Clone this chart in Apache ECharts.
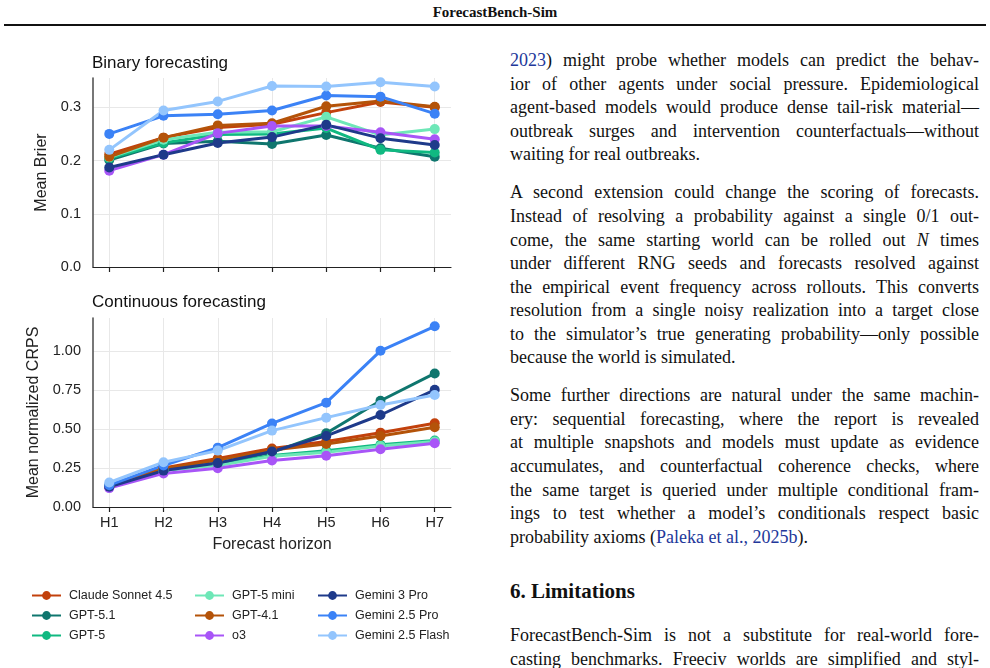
<!DOCTYPE html>
<html>
<head>
<meta charset="utf-8">
<script src="https://cdn.jsdelivr.net/npm/echarts@6/dist/echarts.min.js"></script>
<style>
  body { margin: 0; background: #fff; }
  #page { position: relative; width: 990px; height: 668px; overflow: hidden; }
  #chart { position: absolute; left: 0; top: 0; width: 495px; height: 668px; }
  .hdr { position: absolute; left: 0; width: 990px; top: 4px; text-align: center;
         font: bold 15px "Liberation Serif", serif; color: #111; }
  .rule { position: absolute; left: 4px; width: 982px; top: 24px; height: 2px; background: #111; }
  .ln { position: absolute; left: 510px; width: 469px; height: 22px; line-height: 22px;
        font: 18px "Liberation Serif", serif; color: #111; white-space: nowrap;
        text-align: justify; text-align-last: justify; }
  .ln.last { text-align-last: left; }
  .ln a { color: #22379a; text-decoration: none; }
  .sec { position: absolute; left: 510px; font: bold 21px "Liberation Serif", serif; color: #111; }
</style>
</head>
<body>
<div id="page">
  <div class="hdr">ForecastBench-Sim</div>
  <div class="rule"></div>
  <div id="chart"></div>

  <div class="ln" style="top:50px"><a>2023</a>) might probe whether models can predict the behav-</div>
  <div class="ln" style="top:74px">ior of other agents under social pressure. Epidemiological</div>
  <div class="ln" style="top:97px">agent-based models would produce dense tail-risk material—</div>
  <div class="ln" style="top:121px">outbreak surges and intervention counterfactuals—without</div>
  <div class="ln last" style="top:144px">waiting for real outbreaks.</div>

  <div class="ln" style="top:182px">A second extension could change the scoring of forecasts.</div>
  <div class="ln" style="top:206px">Instead of resolving a probability against a single 0/1 out-</div>
  <div class="ln" style="top:230px">come, the same starting world can be rolled out <i>N</i> times</div>
  <div class="ln" style="top:253px">under different RNG seeds and forecasts resolved against</div>
  <div class="ln" style="top:277px">the empirical event frequency across rollouts. This converts</div>
  <div class="ln" style="top:300px">resolution from a single noisy realization into a target close</div>
  <div class="ln" style="top:324px">to the simulator’s true generating probability—only possible</div>
  <div class="ln last" style="top:347px">because the world is simulated.</div>

  <div class="ln" style="top:385px">Some further directions are natural under the same machin-</div>
  <div class="ln" style="top:409px">ery: sequential forecasting, where the report is revealed</div>
  <div class="ln" style="top:432px">at multiple snapshots and models must update as evidence</div>
  <div class="ln" style="top:456px">accumulates, and counterfactual coherence checks, where</div>
  <div class="ln" style="top:480px">the same target is queried under multiple conditional fram-</div>
  <div class="ln" style="top:503px">ings to test whether a model’s conditionals respect basic</div>
  <div class="ln last" style="top:527px">probability axioms (<a>Paleka et al., 2025b</a>).</div>

  <div class="sec" style="top:579px">6. Limitations</div>

  <div class="ln" style="top:625px">ForecastBench-Sim is not a substitute for real-world fore-</div>
  <div class="ln" style="top:649px">casting benchmarks. Freeciv worlds are simplified and styl-</div>
</div>

<script>
// categories
var horizons = ["H1", "H2", "H3", "H4", "H5", "H6", "H7"];
var models = ["Claude Sonnet 4.5", "GPT-5.1", "GPT-5", "GPT-5 mini", "GPT-4.1", "o3",
  "Gemini 3 Pro", "Gemini 2.5 Pro", "Gemini 2.5 Flash"];

// binary forecasting: mean Brier
var brierClaude = [0.212, 0.243, 0.262, 0.268, 0.290, 0.310, 0.300];
var brierGpt51 = [0.201, 0.232, 0.236, 0.231, 0.248, 0.223, 0.207];
var brierGpt5 = [0.204, 0.233, 0.249, 0.250, 0.261, 0.220, 0.215];
var brierGpt5mini = [0.206, 0.239, 0.253, 0.254, 0.282, 0.248, 0.259];
var brierGpt41 = [0.207, 0.243, 0.266, 0.270, 0.302, 0.312, 0.301];
var brierO3 = [0.181, 0.211, 0.251, 0.265, 0.265, 0.253, 0.240];
var brierGem3Pro = [0.187, 0.211, 0.233, 0.244, 0.267, 0.242, 0.229];
var brierGem25Pro = [0.250, 0.284, 0.287, 0.294, 0.322, 0.320, 0.288];
var brierGem25Flash = [0.220, 0.294, 0.311, 0.340, 0.339, 0.347, 0.339];

// continuous forecasting: mean normalized CRPS
var crpsClaude = [0.130, 0.250, 0.310, 0.375, 0.419, 0.476, 0.536];
var crpsGpt51 = [0.130, 0.235, 0.280, 0.350, 0.472, 0.680, 0.855];
var crpsGpt5 = [0.130, 0.235, 0.270, 0.330, 0.360, 0.398, 0.425];
var crpsGpt5mini = [0.135, 0.235, 0.265, 0.325, 0.350, 0.390, 0.420];
var crpsGpt41 = [0.130, 0.245, 0.300, 0.365, 0.404, 0.455, 0.510];
var crpsO3 = [0.121, 0.215, 0.248, 0.298, 0.328, 0.370, 0.408];
var crpsGem3Pro = [0.130, 0.233, 0.281, 0.355, 0.455, 0.589, 0.750];
var crpsGem25Pro = [0.140, 0.266, 0.380, 0.535, 0.668, 1.000, 1.157];
var crpsGem25Flash = [0.157, 0.287, 0.361, 0.489, 0.572, 0.653, 0.717];

// tick labels
var brierTicks = [0, 0.1, 0.2, 0.3];
var crpsTicks = [0, 0.25, 0.5, 0.75, 1.0];

var brierAll = [brierClaude, brierGpt51, brierGpt5, brierGpt5mini, brierGpt41, brierO3,
  brierGem3Pro, brierGem25Pro, brierGem25Flash];
var crpsAll = [crpsClaude, crpsGpt51, crpsGpt5, crpsGpt5mini, crpsGpt41, crpsO3,
  crpsGem3Pro, crpsGem25Pro, crpsGem25Flash];

var colors = ["#c2410c", "#0f766e", "#10b981", "#6ee7b7", "#b45309", "#a855f7",
  "#1e3a8a", "#3b82f6", "#93c5fd"];

var font = "Liberation Sans, Arial, sans-serif";
var xPos = horizons.map(function (h, i) { return i + 1; });

// squeeze justified text lines that are wider than the column
document.querySelectorAll(".ln").forEach(function (el) {
  var r = document.createRange();
  r.selectNodeContents(el);
  var natural = r.getBoundingClientRect().width;
  var spaces = (el.textContent.match(/ /g) || []).length;
  if (natural > 469 && spaces) {
    el.style.wordSpacing = ((469 - natural) / spaces) + "px";
  }
});

function xAxis(grid, labels) {
  return {
    type: "value", gridIndex: grid, min: 0.7, max: 7.3,
    axisLine: { lineStyle: { color: "#222", width: 1.2 } },
    axisTick: { show: true, customValues: xPos, length: 5, lineStyle: { color: "#222", width: 1.2 } },
    axisLabel: {
      show: labels, customValues: xPos, margin: 8, fontSize: 14.5, color: "#222", fontFamily: font,
      formatter: function (v) { return horizons[Math.round(v) - 1]; }
    },
    splitLine: { show: true, lineStyle: { color: "#e8e8e8", width: 1 } },
    name: labels ? "Forecast horizon" : "",
    nameLocation: "middle", nameGap: 30,
    nameTextStyle: { fontSize: 16, color: "#222", fontFamily: font }
  };
}

function yAxis(grid, max, ticks, digits, name, gap) {
  return {
    type: "value", gridIndex: grid, min: 0, max: max,
    axisLine: { show: true, lineStyle: { color: "#555", width: 1.6 } },
    axisTick: { show: false, customValues: ticks },
    axisLabel: {
      customValues: ticks, margin: 12, fontSize: 14.5, color: "#222", fontFamily: font,
      formatter: function (v) { return v.toFixed(digits); }
    },
    splitLine: { show: true, lineStyle: { color: "#e8e8e8", width: 1 } },
    name: name, nameLocation: "middle", nameGap: gap,
    nameTextStyle: { fontSize: 16, color: "#222", fontFamily: font }
  };
}

var series = [];
models.forEach(function (m, k) {
  [brierAll[k], crpsAll[k]].forEach(function (vals, g) {
    series.push({
      name: m, type: "line", xAxisIndex: g, yAxisIndex: g,
      data: vals.map(function (v, i) { return [xPos[i], v]; }),
      symbol: "circle", symbolSize: 10,
      lineStyle: { width: 3, color: colors[k] },
      itemStyle: { color: colors[k] },
      emphasis: { disabled: true },
      animation: false
    });
  });
});

function legend(names, left) {
  return {
    data: names, orient: "vertical", left: left, top: 589, padding: 0,
    itemWidth: 29, itemHeight: 11, itemGap: 7, selectedMode: false,
    textStyle: { fontSize: 12.5, color: "#222", fontFamily: font, padding: [0, 0, 0, 3] }
  };
}

var chart = echarts.init(document.getElementById("chart"));
var option = {
  animation: false,
  title: [
    { text: "Binary forecasting", left: 92, top: 55, padding: 0,
      textStyle: { fontSize: 17, fontWeight: "normal", color: "#111", fontFamily: font } },
    { text: "Continuous forecasting", left: 92, top: 294, padding: 0,
      textStyle: { fontSize: 17, fontWeight: "normal", color: "#111", fontFamily: font } }
  ],
  grid: [
    { left: 93, top: 78, width: 358, height: 189 },
    { left: 93, top: 318, width: 358, height: 189 }
  ],
  xAxis: [xAxis(0, false), xAxis(1, true)],
  yAxis: [
    yAxis(0, 0.355, brierTicks, 1, "Mean Brier", 37),
    yAxis(1, 1.21, crpsTicks, 2, "Mean normalized CRPS", 47)
  ],
  legend: [
    legend(models.slice(0, 3), 31),
    legend(models.slice(3, 6), 194),
    legend(models.slice(6, 9), 317)
  ],
  series: series
};
chart.setOption(option);
</script>
</body>
</html>
